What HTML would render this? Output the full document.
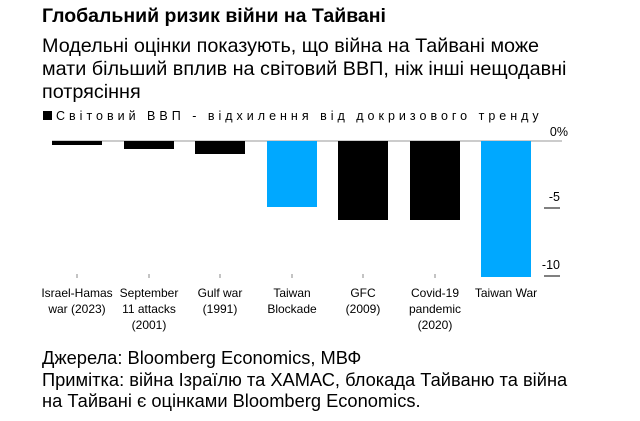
<!DOCTYPE html>
<html><head><meta charset="utf-8"><style>
html,body{margin:0;padding:0;background:#fff;}
body{width:640px;height:421px;position:relative;overflow:hidden;font-family:"Liberation Sans",sans-serif;color:#000;}
.t{position:absolute;left:42px;white-space:nowrap;}
</style></head><body>
<div class="t" style="top:5px;font-size:19.5px;font-weight:bold;">Глобальний ризик війни на Тайвані</div>
<div class="t" style="top:35px;font-size:19.8px;line-height:23px;">Модельні оцінки показують, що війна на Тайвані може<br>мати більший вплив на світовий ВВП, ніж інші нещодавні<br>потрясіння</div>
<svg width="640" height="421" style="position:absolute;left:0;top:0" font-family="Liberation Sans, sans-serif">
<rect x="43" y="111" width="9" height="9" fill="#000"/>
<text x="56" y="120" font-size="12.5" letter-spacing="4">Світовий ВВП - відхилення від докризового тренду</text>
<line x1="52" y1="141" x2="562" y2="141" stroke="#999" stroke-width="1"/>
<rect x="52" y="141" width="50" height="4" fill="#000"/>
<rect x="124" y="141" width="50" height="8" fill="#000"/>
<rect x="195" y="141" width="50" height="13" fill="#000"/>
<rect x="267" y="141" width="50" height="66" fill="#00a8ff"/>
<rect x="338" y="141" width="50" height="79" fill="#000"/>
<rect x="410" y="141" width="50" height="79" fill="#000"/>
<rect x="481" y="141" width="50" height="136" fill="#00a8ff"/>
<text x="568" y="136" font-size="12.5" text-anchor="end">0%</text>
<text x="560" y="201" font-size="12.5" text-anchor="end">-5</text>
<line x1="544" y1="208" x2="560" y2="208" stroke="#000"/>
<text x="560" y="269" font-size="12.5" text-anchor="end">-10</text>
<line x1="544" y1="276" x2="560" y2="276" stroke="#000"/>
<g stroke="#888"><line x1="77" y1="274" x2="77" y2="278"/><line x1="149" y1="274" x2="149" y2="278"/><line x1="220" y1="274" x2="220" y2="278"/><line x1="292" y1="274" x2="292" y2="278"/><line x1="363" y1="274" x2="363" y2="278"/><line x1="435" y1="274" x2="435" y2="278"/></g>
<g font-size="12" text-anchor="middle">
<text x="77" y="297">Israel-Hamas</text><text x="77" y="313">war (2023)</text>
<text x="149" y="297">September</text><text x="149" y="313">11 attacks</text><text x="149" y="329">(2001)</text>
<text x="220" y="297">Gulf war</text><text x="220" y="313">(1991)</text>
<text x="292" y="297">Taiwan</text><text x="292" y="313">Blockade</text>
<text x="363" y="297">GFC</text><text x="363" y="313">(2009)</text>
<text x="435" y="297">Covid-19</text><text x="435" y="313">pandemic</text><text x="435" y="329">(2020)</text>
<text x="506" y="297">Taiwan War</text>
</g>
</svg>
<div class="t" style="top:347px;font-size:18.3px;line-height:21.5px;">Джерела: Bloomberg Economics, МВФ<br>Примітка: війна Ізраїлю та ХАМАС, блокада Тайваню та війна<br>на Тайвані є оцінками Bloomberg Economics.</div>
</body></html>
